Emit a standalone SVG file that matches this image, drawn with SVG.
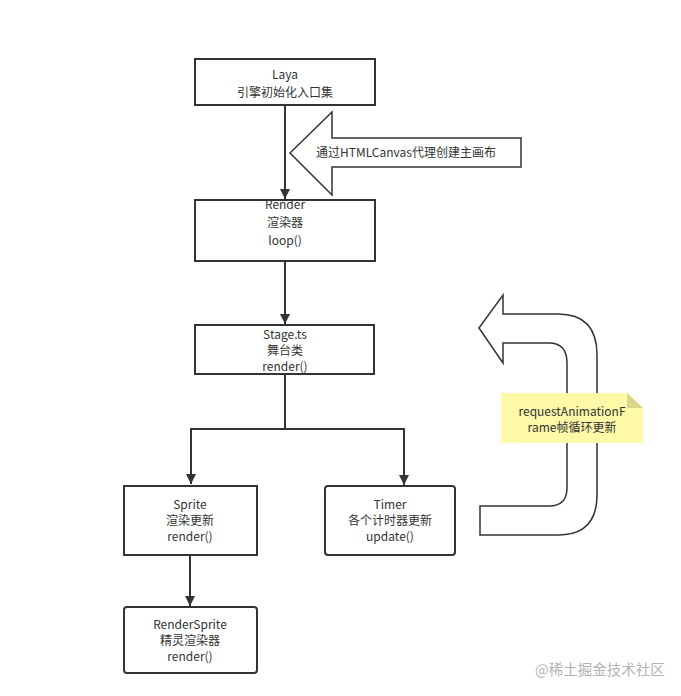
<svg xmlns="http://www.w3.org/2000/svg" width="681" height="696" viewBox="0 0 681 696">
<style>
text{font-family:"Noto Sans CJK SC","Liberation Sans",sans-serif;font-size:12px;fill:#333;text-anchor:middle}
.box{fill:#fff;stroke:#333;stroke-width:2}
.edge{fill:none;stroke:#333;stroke-width:2}
.shape{fill:#fff;stroke:#333;stroke-width:1.5}
.wm{font-size:14.5px;fill:#b3b3b3;text-anchor:start}
</style>
<defs>
<marker id="ah" viewBox="0 0 10 10" refX="10" refY="5" markerWidth="5" markerHeight="5" orient="auto" markerUnits="strokeWidth">
<path d="M0,0 L10,5 L0,10 z" fill="#333"/>
</marker>
</defs>
<rect width="681" height="696" fill="#fff"/>
<g id="connectors">
<path class="edge" d="M285,105 V199" marker-end="url(#ah)"/>
<path class="edge" d="M285,261 V324" marker-end="url(#ah)"/>
<path class="edge" d="M285,374 V429 H191 V484" marker-end="url(#ah)"/>
<path class="edge" d="M285,429 H404 V485" marker-end="url(#ah)"/>
<path class="edge" d="M190,555 V606" marker-end="url(#ah)"/>
</g>
<g id="canvas-arrow">
<path class="shape" d="M290,153 L332,112 V138 H521 V167 H332 V195 Z"/>
<text x="406" y="157">通过HTMLCanvas代理创建主画布</text>
</g>
<g id="loop-arrow">
<path class="shape" d="M479,328 L503,295 V314 H558 Q597,314 597,355 V495 Q597,535 558,535 H480 V506 H549 Q567,506 567,488 V363 Q567,343 549,343 H503 V363 Z"/>
</g>
<g id="laya">
<rect class="box" x="195" y="59" width="180" height="46"/>
<text x="285" y="79">Laya</text>
<text x="285" y="97">引擎初始化入口集</text>
</g>
<g id="render">
<rect class="box" x="195" y="200" width="180" height="61"/>
<text x="285" y="209">Render</text>
<text x="285" y="227">渲染器</text>
<text x="285" y="245">loop()</text>
</g>
<g id="stage">
<rect class="box" x="195" y="325" width="179" height="49"/>
<text x="285" y="339">Stage.ts</text>
<text x="285" y="355">舞台类</text>
<text x="285" y="371">render()</text>
</g>
<g id="sprite">
<rect class="box" x="124" y="486" width="133" height="69"/>
<text x="190" y="509">Sprite</text>
<text x="190" y="525">渲染更新</text>
<text x="190" y="541">render()</text>
</g>
<g id="timer">
<rect class="box" x="325" y="486" width="130" height="69" rx="3"/>
<text x="390" y="509">Timer</text>
<text x="390" y="525">各个计时器更新</text>
<text x="390" y="541">update()</text>
</g>
<g id="rendersprite">
<rect class="box" x="124" y="607" width="133" height="66" rx="3"/>
<text x="190" y="629">RenderSprite</text>
<text x="190" y="645">精灵渲染器</text>
<text x="190" y="661">render()</text>
</g>
<g id="note">
<path d="M501,393 H627 L643,408 V443 H501 Z" fill="#fff9a8"/>
<path d="M627,393 L643,408 H627 Z" fill="#d9d68a"/>
<text x="572" y="416">requestAnimationF</text>
<text x="572" y="432">rame帧循环更新</text>
</g>
<text class="wm" x="535" y="675">@稀土掘金技术社区</text>
</svg>
